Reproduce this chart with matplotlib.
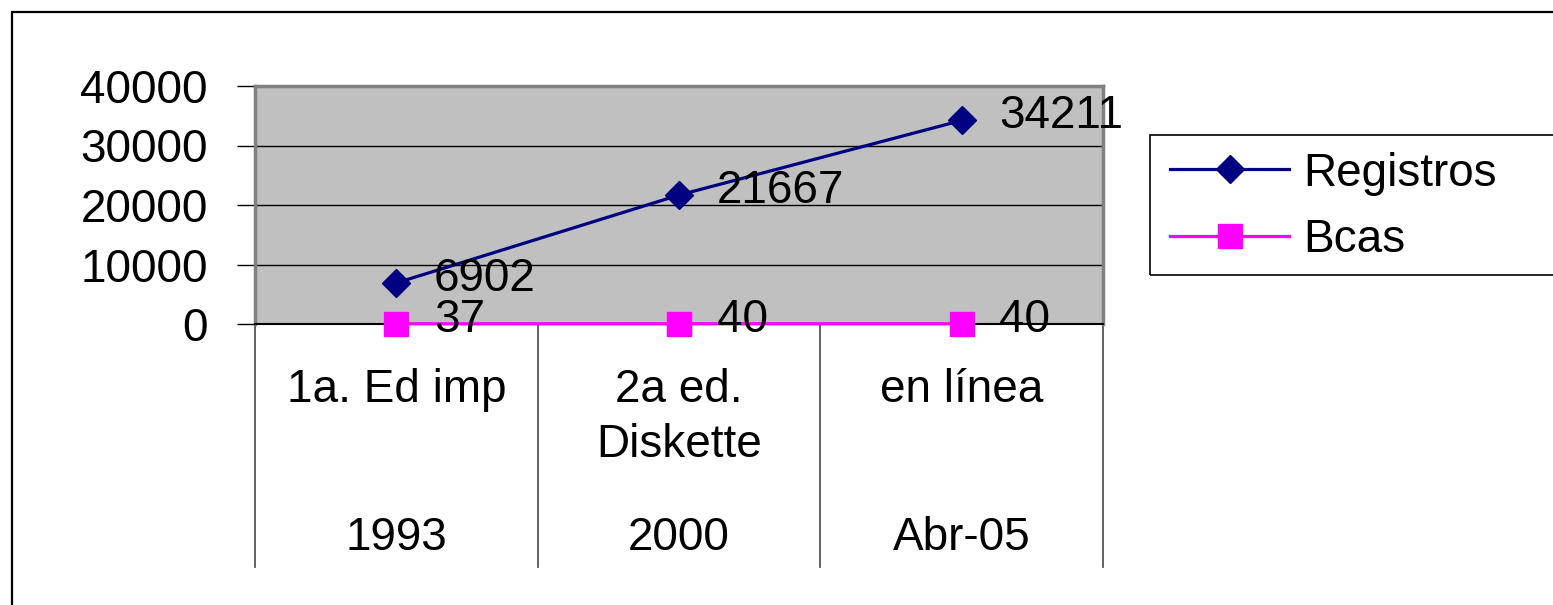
import matplotlib
matplotlib.use('Agg')
import matplotlib.pyplot as plt
from matplotlib.lines import Line2D
from matplotlib.patches import Rectangle

plt.rcParams['font.family'] = ['Liberation Sans', 'DejaVu Sans']

# data
categories = ['1a. Ed imp', '2a ed.\nDiskette', 'en línea']
years = ['1993', '2000', 'Abr-05']
registros = [6902, 21667, 34211]
bcas = [37, 40, 40]
yticks = [0, 10000, 20000, 30000, 40000]

FS = 33

W, H = 1553, 605
fig = plt.figure(figsize=(W / 100, H / 100), dpi=100)

def fx(px):
    return px / W

def fy(py):
    return 1 - py / H

# outer chart frame (runs off the right and bottom edges)
fig.add_artist(Rectangle((fx(12), -0.1), 1.2, fy(12) + 0.1, transform=fig.transFigure,
                         fill=False, edgecolor='black', linewidth=1.6))

left, right, top, bottom = 255, 1103, 86, 324
ax = fig.add_axes([fx(left), fy(bottom), fx(right - left), (bottom - top) / H])
ax.set_facecolor('#C0C0C0')

x = list(range(len(categories)))
ax.plot(x, registros, color='#000080', lw=2.3, marker='D', ms=14.5,
        markeredgecolor='#000080', label='Registros', zorder=4)
ax.plot(x, bcas, color='#FF00FF', lw=2.3, marker='s', ms=17,
        markeredgecolor='#FF00FF', label='Bcas', zorder=4, clip_on=False)

ax.set_xlim(-0.5, len(categories) - 0.5)
ax.set_ylim(0, 40000)
ax.set_yticks(yticks)
ax.set_yticklabels([str(t) for t in yticks], fontsize=FS)
ax.tick_params(axis='y', direction='out', length=13, width=1, color='black', pad=21)
ax.set_xticks([])
ax.yaxis.grid(True, color='black', lw=1)
ax.set_axisbelow(True)

for side in ['top', 'right', 'left']:
    ax.spines[side].set_color('#808080')
    ax.spines[side].set_linewidth(2.5)
ax.spines['bottom'].set_color('black')
ax.spines['bottom'].set_linewidth(1.5)

# data labels
for xi, v in zip(x, registros):
    ax.annotate(str(v), (xi, v), xytext=(27, 3), textcoords='offset points',
                fontsize=FS, va='center', ha='left', zorder=5)
for xi, v in zip(x, bcas):
    ax.annotate(str(v), (xi, v), xytext=(27, 3), textcoords='offset points',
                fontsize=FS, va='center', ha='left', zorder=5, annotation_clip=False)

# two-level category axis
xt = ax.get_xaxis_transform()
axis_h = bottom - top
sep_end = -(567 - bottom) / axis_h
for b in [i - 0.5 for i in range(len(categories) + 1)]:
    ax.plot([b, b], [0, sep_end], transform=xt, color='#555555', lw=1.3, clip_on=False)

for xi, lab in zip(x, categories):
    for j, line in enumerate(lab.split('\n')):
        yb = -(402 + j * 55 - bottom) / axis_h
        ax.text(xi, yb, line, transform=xt, ha='center', va='baseline', fontsize=FS)
for xi, yr in zip(x, years):
    ax.text(xi, -(550 - bottom) / axis_h, yr, transform=xt, ha='center',
            va='baseline', fontsize=FS)

# legend
fig.add_artist(Rectangle((fx(1150), fy(275)), 0.3, (275 - 135) / H,
                         transform=fig.transFigure, fill=False,
                         edgecolor='black', linewidth=1.2))
handles = [Line2D([], [], color='#000080', lw=2.3, marker='D', ms=14.5),
           Line2D([], [], color='#FF00FF', lw=2.3, marker='s', ms=17)]
fig.legend(handles, ['Registros', 'Bcas'], loc='center left',
           bbox_to_anchor=(fx(1170), fy(207)), frameon=False, fontsize=FS,
           borderpad=0, borderaxespad=0, handlelength=2.6, handletextpad=0.3,
           labelspacing=0.5)

fig.savefig('out.png', dpi=100)
